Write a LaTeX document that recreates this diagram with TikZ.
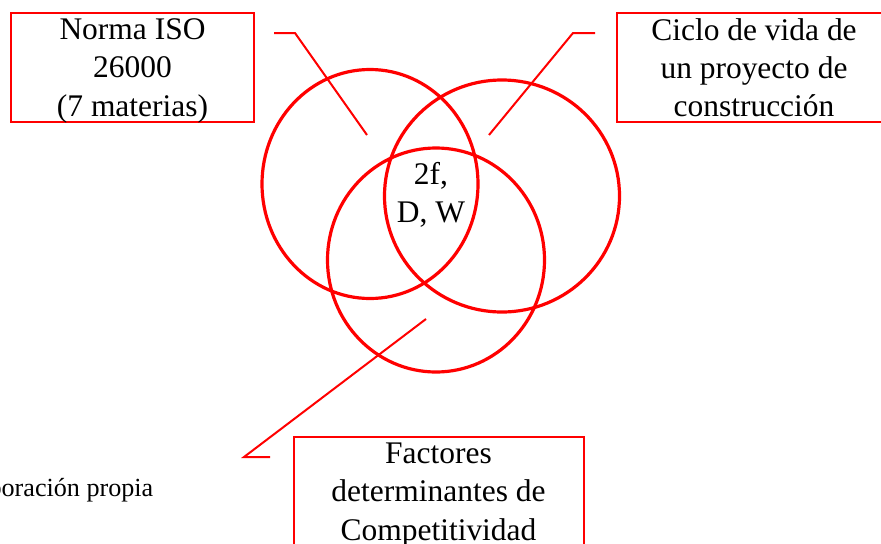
\documentclass[tikz,border=0pt]{standalone}
\usepackage{fontspec}
\setmainfont{Liberation Serif}
\usetikzlibrary{shapes.geometric}
\definecolor{vennred}{RGB}{255,0,0}
\tikzset{
  venn/.style  ={draw=vennred, ellipse, line width=2.4pt, inner sep=0pt},
  labbox/.style={draw=vennred, line width=1.5pt, inner sep=0pt, minimum height=81.75pt, text depth=0pt,
                 align=center, font=\fontsize{23.6}{28.8}\selectfont},
  callout/.style={draw=vennred, line width=1.5pt},
  mid/.style   ={align=center, font=\fontsize{23.6}{28.8}\selectfont},
  src/.style   ={font=\fontsize{19.6}{23}\selectfont},
}

\begin{document}
\begin{tikzpicture}[x=0.75pt, y=-0.75pt]
  \useasboundingbox (0,0) rectangle (881,543);

  % three sets
  \node[venn, minimum width=162pt,    minimum height=171.75pt] (iso)   at (370,184) {};
  \node[venn, minimum width=176.25pt, minimum height=174pt]    (ciclo) at (502,196) {};
  \node[venn, minimum width=162.75pt, minimum height=168pt]    (fact)  at (436,260) {};
  \node[mid] (core) at (431,195) {2f,\\D, W};

  % labels
  \node[labbox, minimum width=182.25pt] (isobox)   at (132.5,67.5) {Norma ISO\\26000\\(7 materias)};
  \node[labbox, minimum width=205.5pt]  (ciclobox) at (754,67.5)   {Ciclo de vida de\\un proyecto de\\construcción};
  \node[labbox, minimum width=217.5pt]  (factbox)  at (438.5,491.5) {Factores\\determinantes de\\Competitividad};

  % callouts
  \coordinate (isoA) at (274,33);  \coordinate (isoB) at (295,33);  \coordinate (isoC) at (367,135);
  \coordinate (cicA) at (595,33);  \coordinate (cicB) at (573,33);  \coordinate (cicC) at (489,135);
  \coordinate (facA) at (270,457); \coordinate (facB) at (244,457); \coordinate (facC) at (426,319);
  \draw[callout] (isoA) -- (isoB) -- (isoC);
  \draw[callout] (cicA) -- (cicB) -- (cicC);
  \draw[callout] (facA) -- (facB) -- (facC);

  \node[src, anchor=base east] (fuente) at (158,496) {Elaboración propia};
\end{tikzpicture}
\end{document}
